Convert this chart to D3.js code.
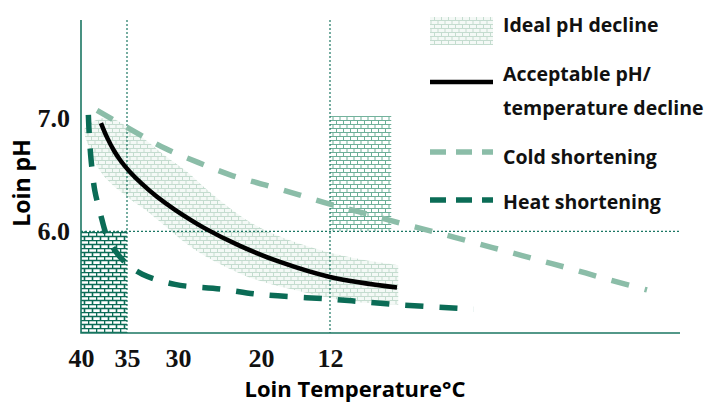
<!DOCTYPE html>
<html>
<head>
<meta charset="utf-8">
<script src="https://cdn.jsdelivr.net/npm/d3@7"></script>
<style>
  body { margin: 0; background: #fff; }
  svg { display: block; }
</style>
</head>
<body>
<div id="chart"></div>
<script>

//==================================//
// Data
//

const xTicks = [40, 35, 30, 20, 12]
const yTicks = [7.0, 6.0]

// Acceptable pH / temperature decline (solid black)
const acceptTemp = [37.83, 37.17, 36.41, 35.65, 34.71, 33.53, 32.06, 30.29, 26.75, 22.53, 17.80, 12.0, 4.34]
const acceptPH   = [6.958, 6.831, 6.713, 6.620, 6.525, 6.419, 6.305, 6.190, 6.026, 5.871, 5.729, 5.596, 5.502]

// Cold shortening (light dashed)
const coldTemp = [38.26, 34.22, 31.18, 27.59, 23.73, 19.54, 15.48, 12.0, 8.0, 4.0, 0.23, -4.0, -8.0, -12.0, -16.0, -20.0, -24.23]
const coldPH   = [7.07, 6.88, 6.73, 6.61, 6.50, 6.41, 6.32, 6.24, 6.158, 6.073, 5.998, 5.910, 5.826, 5.742, 5.658, 5.569, 5.481]

// Heat shortening (dark dashed)
const heatTemp = [39.2, 39.1, 38.9, 38.5, 37.9, 37.2, 36.3, 35.0, 33.5, 30.3, 24.9, 20.0, 12.0, 4.1, -4.4]
const heatPH   = [7.03, 6.85, 6.63, 6.36, 6.16, 5.96, 5.83, 5.71, 5.62, 5.53, 5.49, 5.44, 5.40, 5.35, 5.31]

// Ideal pH decline band
const idealTemp  = [39.6, 38.2, 36.7, 34.9, 33.2, 31.3, 28.8, 26.7, 21.3, 15.5, 9.7, 4.2]
const idealUpper = [6.92, 6.99, 7.00, 6.92, 6.81, 6.67, 6.52, 6.38, 6.08, 5.89, 5.77, 5.70]
const idealLower = [6.85, 6.57, 6.42, 6.30, 6.19, 6.05, 5.88, 5.78, 5.59, 5.47, 5.38, 5.35]

// Shaded zones [temp from, temp to, pH from, pH to]
const heatZone = [40, 35, 5.1, 6.0]
const coldZone = [12, 5, 6.0, 7.02]

// Reference (dotted) lines
const refTemps = [35, 12]
const refPH = [6.0]

const legendLabels = ['Ideal pH decline', 'Acceptable pH/', 'temperature decline', 'Cold shortening', 'Heat shortening']


//==================================//
// Setup
//

const svgw = 705, svgh = 413
const darkTeal = '#0b6c56', lightTeal = '#8bbda8', axisTeal = '#1b7763'
const sans = "'Open Sans', sans-serif"
const serif = "'Liberation Serif', 'DejaVu Serif', serif"

let svg = d3.select('#chart').append('svg')
    .attr('width', svgw)
    .attr('height', svgh)

// the temperature axis is not evenly spaced in the original
let x = d3.scaleLinear()
    .domain([40, 35, 30, 20, 12, -28])
    .range([81, 127, 178, 261, 330, 680])

let y = d3.scaleLinear()
    .domain([5.1, 7.87])
    .range([333, 20])

const x0 = x(40), x1 = 680, yTop = 20, yBot = 333

//====[ Brick patterns ]====//

let defs = svg.append('defs')

function brick(id, color, sw, bg, w, h) {
    let p = defs.append('pattern')
        .attr('id', id)
        .attr('patternUnits', 'userSpaceOnUse')
        .attr('width', w)
        .attr('height', h * 2)
    p.append('rect').attr('width', w).attr('height', h * 2).attr('fill', bg)
    p.append('path')
        .attr('d', 'M0,0.5H' + w + 'M0,' + (h + 0.5) + 'H' + w +
                   'M0.5,0V' + h + 'M' + (w / 2 + 0.5) + ',' + h + 'V' + (h * 2))
        .attr('stroke', color)
        .attr('stroke-width', sw)
        .attr('fill', 'none')
}
brick('brickDark', darkTeal, 1.6, '#ffffff', 8, 4)
brick('brickMid', '#6daf98', 1, '#ffffff', 7, 4)
brick('brickPale', '#c4dccf', 1, '#f4f9f6', 7, 4)


//==================================//
// Zones and reference lines
//

function zone(z, fill) {
    svg.append('rect')
        .attr('x', x(z[0]))
        .attr('width', x(z[1]) - x(z[0]))
        .attr('y', y(z[3]))
        .attr('height', y(z[2]) - y(z[3]))
        .attr('fill', 'url(#' + fill + ')')
}
zone(heatZone, 'brickDark')
zone(coldZone, 'brickMid')

//====[ Ideal band ]====//

let band = d3.area()
    .x((d, i) => x(idealTemp[i]))
    .y0((d, i) => y(idealLower[i]))
    .y1((d, i) => y(idealUpper[i]))
    .curve(d3.curveCatmullRom)

svg.append('path')
    .datum(idealTemp)
    .attr('d', band)
    .attr('fill', 'url(#brickPale)')

//====[ Dotted grid ]====//

svg.selectAll('.vref')
    .data(refTemps)
    .enter()
    .append('line')
    .attr('x1', d => x(d)).attr('x2', d => x(d))
    .attr('y1', yTop).attr('y2', yBot)
    .attr('stroke', axisTeal)
    .attr('stroke-width', 1.2)
    .attr('stroke-dasharray', '2,2')

svg.selectAll('.href')
    .data(refPH)
    .enter()
    .append('line')
    .attr('x1', x0).attr('x2', x1)
    .attr('y1', d => y(d)).attr('y2', d => y(d))
    .attr('stroke', axisTeal)
    .attr('stroke-width', 1.2)
    .attr('stroke-dasharray', '2,2')


//==================================//
// Curves
//

function drawCurve(temps, phs, color, width, dash) {
    let line = d3.line()
        .x((d, i) => x(temps[i]))
        .y((d, i) => y(phs[i]))
        .curve(d3.curveCatmullRom)
    svg.append('path')
        .datum(phs)
        .attr('d', line)
        .attr('fill', 'none')
        .attr('stroke', color)
        .attr('stroke-width', width)
        .attr('stroke-dasharray', dash)
}
drawCurve(coldTemp, coldPH, lightTeal, 5.5, '18,16')
drawCurve(heatTemp, heatPH, darkTeal, 5.5, '18,16')
drawCurve(acceptTemp, acceptPH, '#000', 4.5, null)


//==================================//
// Axes
//

let xAxis = d3.axisBottom(x).tickValues(xTicks).tickSize(0).tickPadding(0)
let gx = svg.append('g').attr('transform', 'translate(0,' + yBot + ')').call(xAxis)
gx.select('.domain').remove()
gx.selectAll('text')
    .attr('y', 34)
    .attr('dy', null)
    .attr('font-family', serif)
    .attr('font-weight', 'bold')
    .attr('font-size', 26)
    .attr('fill', '#111')

let yAxis = d3.axisLeft(y).tickValues(yTicks).tickFormat(d3.format('.1f')).tickSize(0).tickPadding(11)
let gy = svg.append('g').attr('transform', 'translate(' + x0 + ',0)').call(yAxis)
gy.select('.domain').remove()
gy.selectAll('text')
    .attr('font-family', serif)
    .attr('font-weight', 'bold')
    .attr('font-size', 26)
    .attr('fill', '#111')

svg.append('path')
    .attr('d', 'M' + x0 + ',' + yTop + 'V' + yBot + 'H' + x1)
    .attr('fill', 'none')
    .attr('stroke', axisTeal)
    .attr('stroke-width', 1.6)

svg.append('text')
    .attr('transform', 'translate(30,183) rotate(-90)')
    .attr('text-anchor', 'middle')
    .attr('font-family', sans)
    .attr('font-weight', 'bold')
    .attr('font-size', 23)
    .text('Loin pH')

svg.append('text')
    .attr('x', 355)
    .attr('y', 397)
    .attr('text-anchor', 'middle')
    .attr('font-family', sans)
    .attr('font-weight', 'bold')
    .attr('font-size', 22)
    .text('Loin Temperature\u00b0C')


//==================================//
// Legend
//

let lg = svg.append('g')
const lx = 430, lw = 63, tx = 503

lg.append('rect')
    .attr('x', lx).attr('y', 17).attr('width', lw).attr('height', 28)
    .attr('fill', 'url(#brickPale)')

lg.append('line')
    .attr('x1', lx).attr('x2', lx + lw).attr('y1', 82).attr('y2', 82)
    .attr('stroke', '#000').attr('stroke-width', 4.5)

lg.append('line')
    .attr('x1', lx).attr('x2', lx + lw).attr('y1', 152).attr('y2', 152)
    .attr('stroke', lightTeal).attr('stroke-width', 5.5).attr('stroke-dasharray', '16,10')

lg.append('line')
    .attr('x1', lx).attr('x2', lx + lw).attr('y1', 200).attr('y2', 200)
    .attr('stroke', darkTeal).attr('stroke-width', 5.5).attr('stroke-dasharray', '16,10')

const legendY = [32, 81, 115, 164, 209]
lg.selectAll('text')
    .data(legendLabels)
    .enter()
    .append('text')
    .attr('x', tx)
    .attr('y', (d, i) => legendY[i])
    .attr('font-family', sans)
    .attr('font-weight', 'bold')
    .attr('font-size', 19.5)
    .attr('fill', '#111')
    .text(d => d)

</script>
</body>
</html>
